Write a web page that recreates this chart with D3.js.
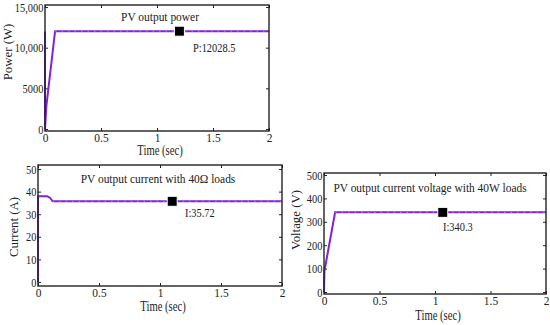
<!DOCTYPE html>
<html>
<head>
<meta charset="utf-8">
<script src="https://cdn.jsdelivr.net/npm/d3@7"></script>
<style>
  body { margin: 0; background: #fff; }
  svg text { font-family: "Liberation Serif", "DejaVu Serif", serif; fill: #222; }
  .axis path { display: none; }
  .axis line { stroke: #222; }
  .axis text { font-family: "Liberation Serif", "DejaVu Serif", serif; font-size: 13px; }
</style>
</head>
<body>
<svg id="chart" width="550" height="325"></svg>
<script>
// x ticks shared by all panels
var timeTicks = [0, 0.5, 1, 1.5, 2];

// PV output power
var powerTime = [0, 0, 0.004, 0.012, 0.09, 2];
var powerVals = [12000, 0, 900, 2800, 12028.5, 12028.5];
var powerTicks = [0, 5000, 10000, 15000];
var powerMark = [1.2, 12028.5];

// PV output current
var currentTime = [0, 0, 0.075, 0.1, 0.12, 2];
var currentVals = [0, 38, 38, 37.2, 35.72, 35.72];
var currentTicks = [0, 10, 20, 30, 40, 50];
var currentMark = [1.1, 35.72];

// PV output voltage
var voltageTime = [0, 0.004, 0.1, 2];
var voltageVals = [0, 90, 340.3, 340.3];
var voltageTicks = [0, 100, 200, 300, 400, 500];
var voltageMark = [1.07, 340.3];

var svg = d3.select("#chart");
var lineColor = "#7f22d8";

// the source font is narrow, so squeeze the text a bit
function label(g, x, y, txt, size, sx, anchor, rot) {
  return g.append("text")
    .attr("transform", "translate(" + x + "," + y + ")" + (rot ? " rotate(-90)" : "") + " scale(" + sx + ",1)")
    .attr("text-anchor", anchor || "start")
    .style("font-size", size + "px")
    .text(txt);
}

function drawPanel(p) {
  let x = d3.scaleLinear().domain([0, 2]).range([p.left, p.right]);
  let y = d3.scaleLinear().domain(p.ydom).range([p.bottom, p.top]);
  let g = svg.append("g");

  let fmt = function(v) { return v >= 10000 ? d3.format(",")(v) : d3.format("")(v); };

  // inside ticks on all four sides, matlab style
  g.append("g").attr("class", "axis")
    .attr("transform", "translate(" + p.left + ",0)")
    .call(d3.axisLeft(y).tickValues(p.yticks).tickSizeInner(-3).tickPadding(2).tickFormat(fmt))
    .selectAll("text").attr("transform", "scale(0.8,1)");
  g.append("g").attr("class", "axis")
    .attr("transform", "translate(" + p.right + ",0)")
    .call(d3.axisRight(y).tickValues(p.yticks).tickSizeInner(-3).tickFormat(""));
  g.append("g").attr("class", "axis")
    .attr("transform", "translate(0," + p.bottom + ")")
    .call(d3.axisBottom(x).tickValues(timeTicks).tickSizeInner(-3).tickPadding(2).tickFormat(d3.format("")))
    .selectAll("text").attr("transform", "scale(0.88,1)");
  g.append("g").attr("class", "axis")
    .attr("transform", "translate(0," + p.top + ")")
    .call(d3.axisTop(x).tickValues(timeTicks).tickSizeInner(-3).tickFormat(""));

  let pts = p.t.map((t, i) => [t, p.v[i]]);
  let line = d3.line().x(d => x(d[0])).y(d => y(d[1]));

  g.append("path")
    .datum(pts)
    .attr("d", line)
    .attr("fill", "none")
    .attr("stroke", lineColor)
    .attr("stroke-width", 2);

  // faint speckle on the steady part
  g.append("path")
    .datum(pts.slice(-2))
    .attr("d", line)
    .attr("fill", "none")
    .attr("stroke", "#fff")
    .attr("stroke-opacity", 0.5)
    .attr("stroke-width", 0.8)
    .attr("stroke-dasharray", "1.5,5");

  g.append("rect")
    .attr("x", p.left).attr("y", p.top)
    .attr("width", p.right - p.left).attr("height", p.bottom - p.top)
    .attr("fill", "none").attr("stroke", "#222").attr("stroke-width", 1.4);

  g.append("rect")
    .attr("x", x(p.mark[0]) - 5).attr("y", y(p.mark[1]) - 5)
    .attr("width", 10).attr("height", 10)
    .attr("fill", "#000").attr("stroke", "#fff").attr("stroke-width", 1);

  label(g, p.titleX, p.titleY, p.title, 13, 0.88, "middle");
  label(g, p.labelX, p.labelY, p.label, 13, 0.8, "start");
  label(g, (p.left + p.right) / 2 + 3, p.bottom + p.timeDy, "Time (sec)", 14, 0.76, "middle");
  label(g, p.ylabX, p.ylabY, p.ylabel, 13.5, 0.95, "middle", true);
}

drawPanel({
  left: 45, right: 269, top: 5, bottom: 131, ydom: [-250, 15250],
  t: powerTime, v: powerVals, yticks: powerTicks, mark: powerMark,
  title: "PV output power", titleX: 160, titleY: 21,
  label: "P:12028.5", labelX: 193, labelY: 52,
  ylabel: "Power (W)", ylabX: 12, ylabY: 52, timeDy: 24
});

drawPanel({
  left: 38, right: 282, top: 165, bottom: 286, ydom: [-1.8, 51.8],
  t: currentTime, v: currentVals, yticks: currentTicks, mark: currentMark,
  title: "PV output current with 40\u03A9 loads", titleX: 158, titleY: 183,
  label: "I:35.72", labelX: 185, labelY: 217,
  ylabel: "Current  (A)", ylabX: 18, ylabY: 227, timeDy: 25
});

drawPanel({
  left: 324, right: 546, top: 173, bottom: 294, ydom: [-8.5, 508.5],
  t: voltageTime, v: voltageVals, yticks: voltageTicks, mark: voltageMark,
  title: "PV output current voltage with 40W loads", titleX: 430, titleY: 192,
  label: "I:340.3", labelX: 443, labelY: 231,
  ylabel: "Voltage (V)", ylabX: 300, ylabY: 220, timeDy: 26
});
</script>
</body>
</html>
